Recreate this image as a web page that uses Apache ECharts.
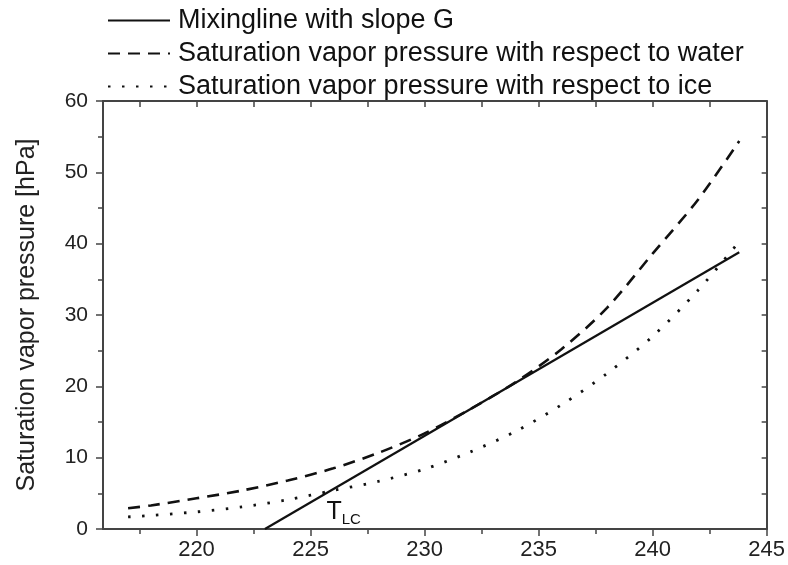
<!DOCTYPE html>
<html><head><meta charset="utf-8">
<script src="https://cdn.jsdelivr.net/npm/echarts@6/dist/echarts.min.js"></script>
<style>html,body{margin:0;padding:0;background:#fff}#c{width:788px;height:565px}</style>
</head><body><div id="c"></div>
<script>
const seriesNames = ['Mixingline with slope G','Saturation vapor pressure with respect to water','Saturation vapor pressure with respect to ice'];
const mixT = [223, 243.8];
const mixP = [0, 38.8];
const waterT = [217,218,220,222,224,226,228,230,232,234,236,238,240,242,243.8];
const waterP = [2.9,3.3,4.3,5.4,6.8,8.5,10.7,13.4,16.8,20.6,25.2,31.0,38.6,46.2,54.4];
const iceT = [217,218,220,222,224,226,228,230,232,234,236,238,240,242,243.8];
const iceP = [1.7,1.9,2.4,3.1,4.1,5.4,6.7,8.4,10.8,13.7,17.4,21.8,27.0,33.5,40.3];
const xTicks = [220,225,230,235,240,245];
const topTicks = [217.5,220,222.5,225,227.5,230,232.5,235,237.5,240,242.5];
const tlcLabel = {pos:[226.45, 2.3], main:'T', sub:'LC'};

const zip = (a,b)=>a.map((v,i)=>[v,b[i]]);
const font = 'Liberation Sans, Arial, sans-serif';
const axisCol = '#444';
const xMin = 215.9, xMax = 245;
const chart = echarts.init(document.getElementById('c'));
chart.setOption({
  animation:false,
  backgroundColor:'#fff',
  textStyle:{fontFamily:font},
  legend:{
    orient:'vertical', left:102, top:2, itemWidth:62, itemHeight:14, itemGap:6,
    itemStyle:{opacity:0},
    textStyle:{fontSize:27, color:'#111', fontFamily:font, padding:[0,0,0,3]},
    data:seriesNames
  },
  grid:{left:103, right:21, top:101, bottom:36},
  xAxis:[{
    type:'value', min:xMin, max:xMax,
    axisLine:{onZero:false, lineStyle:{color:axisCol, width:2}},
    axisTick:{show:true, inside:false, length:7, lineStyle:{color:axisCol, width:1.5}, customValues:xTicks},
    minorTick:{show:false},
    axisLabel:{fontSize:22, color:'#222', margin:10, fontFamily:font, customValues:xTicks},
    splitLine:{show:false}
  },{
    type:'value', position:'top', min:xMin, max:xMax,
    axisLine:{onZero:false, lineStyle:{color:axisCol, width:2}},
    axisTick:{show:true, inside:true, length:6, lineStyle:{color:axisCol, width:1.5}, customValues:topTicks},
    axisLabel:{show:false}, splitLine:{show:false}
  },{
    type:'value', position:'bottom', min:xMin, max:xMax,
    axisLine:{show:false},
    axisTick:{show:true, inside:false, length:5, lineStyle:{color:axisCol, width:1.5},
      customValues:[217.5,222.5,227.5,232.5,237.5,242.5]},
    axisLabel:{show:false}, splitLine:{show:false}
  }],
  yAxis:[{
    type:'value', min:0, max:60, interval:10,
    name:'Saturation vapor pressure [hPa]', nameLocation:'middle', nameGap:63,
    nameTextStyle:{fontSize:25, color:'#222', fontFamily:font},
    axisLine:{onZero:false, lineStyle:{color:axisCol, width:2}},
    axisTick:{show:true, inside:false, length:7, lineStyle:{color:axisCol, width:1.5}},
    minorTick:{show:true, splitNumber:2, length:5, lineStyle:{color:axisCol, width:1.5}},
    axisLabel:{fontSize:21, color:'#222', margin:15, fontFamily:font},
    splitLine:{show:false}
  },{
    type:'value', position:'right', min:0, max:60, interval:5,
    axisLine:{onZero:false, lineStyle:{color:axisCol, width:2}},
    axisTick:{show:true, inside:true, length:5, lineStyle:{color:axisCol, width:1.5}},
    axisLabel:{show:false}, splitLine:{show:false}
  }],
  series:[
    {name:seriesNames[0], type:'line', data:zip(mixT,mixP), symbol:'none', color:'#111',
     lineStyle:{color:'#111', width:2.2, type:'solid'},
     markPoint:{symbol:'circle', symbolSize:0, silent:true,
       data:[{coord:tlcLabel.pos, value:0}],
       label:{show:true, position:'inside', formatter:'{t|'+tlcLabel.main+'}{s|'+tlcLabel.sub+'}',
         rich:{t:{fontSize:25, color:'#111', fontFamily:font}, s:{fontSize:15, color:'#111', fontFamily:font, padding:[14,0,0,0]}}}}},
    {name:seriesNames[1], type:'line', data:zip(waterT,waterP), symbol:'none', smooth:0.3, color:'#111',
     lineStyle:{color:'#111', width:2.6, type:[12,8]}},
    {name:seriesNames[2], type:'line', data:zip(iceT,iceP), symbol:'none', smooth:0.3, color:'#111',
     lineStyle:{color:'#111', width:2.8, type:[2.5,11.5]}}
  ]
});
</script></body></html>
